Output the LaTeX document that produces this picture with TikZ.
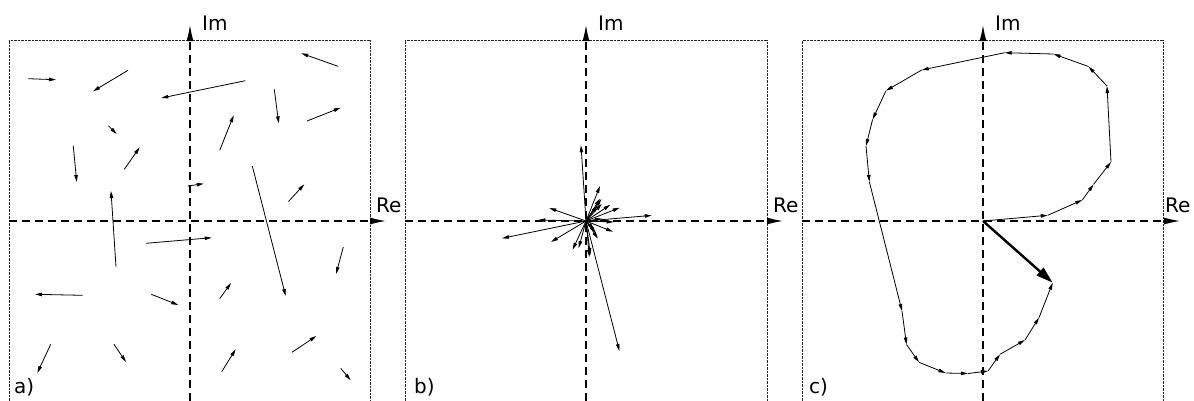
\documentclass[tikz,border=0pt]{standalone}
\usepackage{fontspec}
\setmainfont{DejaVu Sans}
\usetikzlibrary{arrows.meta,calc}
\begin{document}
\begin{tikzpicture}[x=1pt,y=-1pt,
  frame/.style={line width=0.8pt, dash pattern=on 0.7pt off 0.7pt, black!85},
  axis/.style={line width=1.1pt, dash pattern=on 8pt off 5pt, -{Latex[length=16pt,width=7pt]}},
  vec/.style={line width=0.8pt, -{Triangle[length=7pt,width=3.5pt]}},
  res/.style={line width=2.4pt, -{Triangle[length=17pt,width=10pt]}},
  lbl/.style={font=\fontsize{20}{22}\selectfont, inner sep=0pt, anchor=west}]
\useasboundingbox (0,0) rectangle (1194,400);

% frames
\foreach \l/\r in {9.3/370.7, 405/767.5, 802.3/1163.3}
  \draw[frame] (\l,401) -- (\l,40) -- (\r,40) -- (\r,401);

% axes
\foreach \ox/\l/\rt/\n in {190/9.3/386/a, 586/405/783/b, 983/802.3/1180/c}{
  \coordinate (O\n) at (\ox,221);
  \coordinate (imtop\n) at (\ox,25);
  \coordinate (imbot\n) at (\ox,401);
  \coordinate (releft\n) at (\l,221);
  \coordinate (reright\n) at (\rt,221);
  \draw[axis] (imbot\n) -- (imtop\n);
  \draw[axis] (releft\n) -- (reright\n);
}

% labels
\node[lbl] (ima) at (202,23) {Im};
\node[lbl] (imb) at (598,23) {Im};
\node[lbl] (imc) at (995,23) {Im};
\node[lbl] (rea) at (376,205) {Re};
\node[lbl] (reb) at (773,205) {Re};
\node[lbl] (rec) at (1165,205) {Re};
\node[lbl] (la) at (14,387) {a)};
\node[lbl] (lb) at (414,387) {b)};
\node[lbl] (lc) at (809,387) {c)};

% panel a: scattered phasors; panel b: same phasors from the origin
\foreach \sx/\sy/\ex/\ey in {
  28.3/78.7/56/79.7, 128/70.3/93/91.3, 245.3/80.7/161.3/98, 338/66.3/301.3/53.3,
  274.3/89.3/278.7/123.3, 307/121/340.7/107.7, 108.3/125.7/116.7/134,
  219.7/150.3/233.7/115.3, 73.3/146/76.7/182, 124.3/169.3/139.7/147.3,
  187.7/186/203.7/183.7, 252.3/166/285.7/296, 288.5/201.5/304.3/184.3,
  116/266.7/111/191, 146/243.3/211.7/237.7, 343.3/247/336/274,
  82.7/295.3/35/294.3, 151.3/294.3/178.3/305, 219.7/298.7/231/283,
  50.7/344.3/37.3/373, 114/344.3/126/362, 221.7/371.7/235.7/349.3,
  292/352.3/316.3/336, 340.7/368.3/350.7/380.3}{
  \draw[vec] (\sx,\sy) -- (\ex,\ey);
  \draw[vec] (Ob) -- ++({\ex-\sx},{\ey-\sy});
}

% panel c: head-to-tail chain
\foreach \x/\y [count=\i from 0] in {
  983/221, 1047.7/215.3, 1082.3/200, 1093.6/184.3, 1111/162, 1107/86,
  1088.5/66.5, 1053.5/54, 1004.7/52.7, 921.7/70, 886/90.7, 872.6/119.4,
  866/146, 869.4/182, 902/311, 906.5/344.5, 919/362.3, 945.5/373,
  968/373.5, 988/371, 1000/354.3, 1025/340, 1039/317.6, 1052.7/282.7}
  \coordinate (c\i) at (\x,\y);
\foreach \i [evaluate=\i as \j using int(\i+1)] in {0,...,22}
  \draw[vec, line join=round] (c\i) -- (c\j);
\draw[res] (Oc) -- (c23);
\end{tikzpicture}
\end{document}
